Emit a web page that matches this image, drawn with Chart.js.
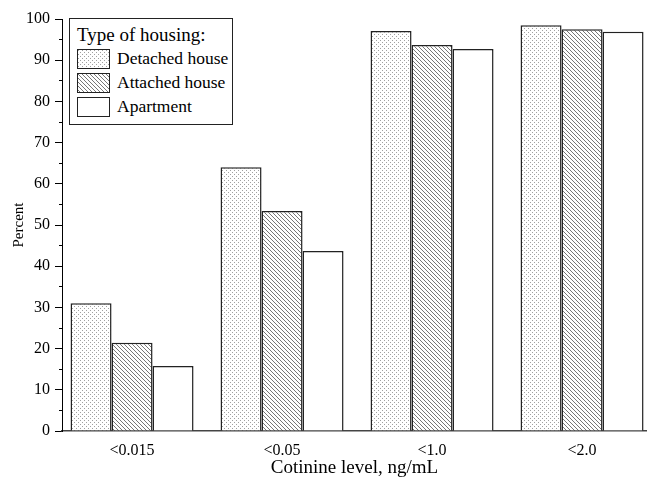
<!DOCTYPE html>
<html>
<head>
<meta charset="utf-8">
<script src="https://cdn.jsdelivr.net/npm/chart.js@4.4.0/dist/chart.umd.min.js"></script>
<style>
  body { margin: 0; background: #fff; }
  #wrap { position: relative; width: 647px; height: 479px; }
  #legend {
    position: absolute; left: 69px; top: 18px; width: 164px; height: 107px;
    box-sizing: border-box; border: 1px solid #222; background: #fff;
    font-family: "Liberation Serif", serif; color: #000;
  }
  #legend .title { position: absolute; left: 7px; top: 5px; font-size: 19px; }
  #legend .row { position: absolute; left: 7px; height: 18px; font-size: 17.5px; white-space: nowrap; }
  #legend canvas { position: absolute; left: 0; top: 0; border: 1px solid #222; box-sizing: border-box; }
  #legend .row span { position: absolute; left: 40px; top: 0; line-height: 18px; }
</style>
</head>
<body>
<div id="wrap">
  <canvas id="graph" width="647" height="479"></canvas>
  <div id="legend"><div class="title">Type of housing:</div></div>
</div>
<script>
// categories and values
const categories = ['<0.015', '<0.05', '<1.0', '<2.0'];
const seriesNames = ['Detached house', 'Attached house', 'Apartment'];
const detached = [31.0, 64.0, 97.1, 98.5];
const attached = [21.4, 53.4, 93.7, 97.5];
const apartment = [15.8, 43.7, 92.7, 96.9];

// fill patterns
function dotPattern() {
    const c = document.createElement('canvas');
    c.width = 4; c.height = 4;
    const g = c.getContext('2d');
    g.fillStyle = '#fff';
    g.fillRect(0, 0, 4, 4);
    g.fillStyle = '#a0a0a0';
    g.fillRect(0, 0, 1, 1);
    g.fillRect(2, 2, 1, 1);
    return c;
}
function hatchPattern() {
    const c = document.createElement('canvas');
    c.width = 4; c.height = 4;
    const g = c.getContext('2d');
    g.fillStyle = '#fff';
    g.fillRect(0, 0, 4, 4);
    g.strokeStyle = '#777';
    g.lineWidth = 1;
    g.beginPath();
    g.moveTo(-1, -1); g.lineTo(5, 5);
    g.moveTo(-1, 3); g.lineTo(1, 5);
    g.moveTo(3, -1); g.lineTo(5, 1);
    g.stroke();
    return c;
}
const ctx = document.getElementById('graph').getContext('2d');
const fills = [ctx.createPattern(dotPattern(), 'repeat'), ctx.createPattern(hatchPattern(), 'repeat'), '#fff'];

const xMin = -0.467, xMax = 3.433;

const toPoints = arr => arr.map((v, i) => ({ x: i, y: v }));

Chart.defaults.font.family = "'Liberation Serif', serif";
Chart.defaults.color = '#000';

new Chart(ctx, {
    type: 'bar',
    data: {
        datasets: [detached, attached, apartment].map((arr, i) => ({
            label: seriesNames[i],
            data: toPoints(arr),
            backgroundColor: fills[i],
            borderColor: '#222',
            borderWidth: 1.5,
            categoryPercentage: 0.82,
            barPercentage: 1.0
        }))
    },
    options: {
        responsive: false,
        animation: false,
        layout: { padding: { top: 19, right: 0, left: 0, bottom: 0 } },
        plugins: { legend: { display: false }, tooltip: { enabled: false } },
        scales: {
            x: {
                type: 'linear',
                offset: false,
                min: xMin,
                max: xMax,
                afterBuildTicks: s => { s.ticks = categories.map((c, i) => ({ value: i })); },
                afterFit: s => { s.height = 48; },
                grid: { display: false, drawTicks: false },
                border: { color: '#444', width: 1.5 },
                ticks: {
                    padding: 10,
                    font: { size: 16 },
                    callback: v => categories[v]
                },
                title: {
                    display: true,
                    text: 'Cotinine level, ng/mL',
                    font: { size: 19 },
                    padding: 0
                }
            },
            y: {
                min: 0,
                max: 100,
                afterFit: s => { s.width = 62; },
                ticks: { stepSize: 10, padding: 5, font: { size: 16 } },
                grid: { drawOnChartArea: false, tickLength: 7, color: '#000' },
                border: { color: '#000', width: 1 },
                title: { display: true, text: 'Percent', font: { size: 15 }, padding: { top: 10, bottom: 0 } }
            },
            yMinor: {
                position: { x: xMin },
                min: 0,
                max: 100,
                ticks: { stepSize: 5, display: false },
                grid: { drawOnChartArea: false, tickLength: 3, color: '#000' },
                border: { display: false }
            }
        }
    }
});

// legend (text kept as real text)
const legend = document.getElementById('legend');
const rowTops = [30, 54, 78];
seriesNames.forEach((name, i) => {
    const row = document.createElement('div');
    row.className = 'row';
    row.style.top = rowTops[i] + 'px';
    const sw = document.createElement('canvas');
    sw.width = 31; sw.height = 18;
    const g = sw.getContext('2d');
    g.fillStyle = i === 0 ? g.createPattern(dotPattern(), 'repeat') : i === 1 ? g.createPattern(hatchPattern(), 'repeat') : '#fff';
    g.fillRect(0, 0, 31, 18);
    const label = document.createElement('span');
    label.textContent = name;
    row.appendChild(sw);
    row.appendChild(label);
    legend.appendChild(row);
});
</script>
</body>
</html>
